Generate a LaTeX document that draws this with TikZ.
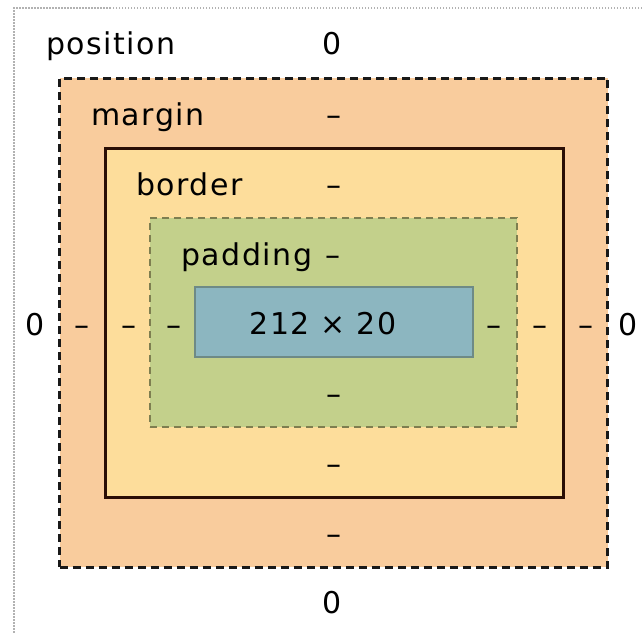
\documentclass[tikz,border=0pt]{standalone}
\usepackage{fontspec}
\setmainfont{DejaVu Sans}[LetterSpace=5]
\begin{document}
\begin{tikzpicture}[x=1pt,y=-1pt,
  lbl/.style={anchor=base,inner sep=0pt,font=\fontsize{30}{31}\selectfont,text=black},
  lblw/.style={lbl,anchor=base west},
  boxbase/.style={rectangle,inner sep=0pt,outer sep=0pt,anchor=center},
  marginbox/.style={boxbase,fill=marginc,draw=black!90,line width=3pt,dash pattern=on 8pt off 5pt},
  borderbox/.style={boxbase,fill=borderc,draw=borderline,line width=3pt},
  paddingbox/.style={boxbase,fill=paddingc,draw=paddingline,line width=2.4pt,dash pattern=on 7pt off 5pt},
  contentbox/.style={boxbase,fill=contentc,draw=contentline,line width=2.2pt},
]
\definecolor{marginc}{HTML}{F9CC9D}
\definecolor{borderc}{HTML}{FDDD9B}
\definecolor{paddingc}{HTML}{C3D08B}
\definecolor{contentc}{HTML}{8CB6C0}
\definecolor{borderline}{HTML}{2A0E06}
\definecolor{paddingline}{HTML}{7E7E50}
\definecolor{contentline}{HTML}{6E8A86}
\useasboundingbox (0,0) rectangle (642,634);
% outer dotted frame
\coordinate (frameTR) at (642,8);
\coordinate (frameTL) at (14,8);
\coordinate (frameBL) at (14,634);
\draw[black!30,line width=1.5pt,dash pattern=on 1.5pt off 1.5pt] (frameTR) -- (frameTL) -- (frameBL);
% boxes
\node[marginbox,minimum width=548pt,minimum height=489pt] (margin) at (333.5,322.5) {};
\node[borderbox,minimum width=458pt,minimum height=349pt] (border) at (334,322.5) {};
\node[paddingbox,minimum width=367pt,minimum height=209pt] (padding) at (333.5,322.5) {};
\node[contentbox,minimum width=278pt,minimum height=70pt] (content) at (334,322) {};
% labels
\node[lblw] (tposition) at (46,55) {position};
\node[lblw] (tmargin) at (91,125) {margin};
\node[lblw] (tborder) at (136,195) {border};
\node[lblw] (tpadding) at (181,265) {padding};
\node[lbl] (tsize) at (323,334) {212 × 20};
% top values
\node[lbl] (postop) at (332,55) {0};
\node[lbl] (mtop) at (334,125) {–};
\node[lbl] (btop) at (334,195) {–};
\node[lbl] (ptop) at (333,265) {–};
% left values
\node[lbl] (posleft) at (35,335) {0};
\node[lbl] (mleft) at (82,335) {–};
\node[lbl] (bleft) at (129,335) {–};
\node[lbl] (pleft) at (174,335) {–};
% right values
\node[lbl] (pright) at (494,335) {–};
\node[lbl] (bright) at (540,335) {–};
\node[lbl] (mright) at (586,335) {–};
\node[lbl] (posright) at (628,335) {0};
% bottom values
\node[lbl] (pbottom) at (334,404) {–};
\node[lbl] (bbottom) at (334,474) {–};
\node[lbl] (mbottom) at (334,544) {–};
\node[lbl] (posbottom) at (332,613) {0};
\end{tikzpicture}
\end{document}
